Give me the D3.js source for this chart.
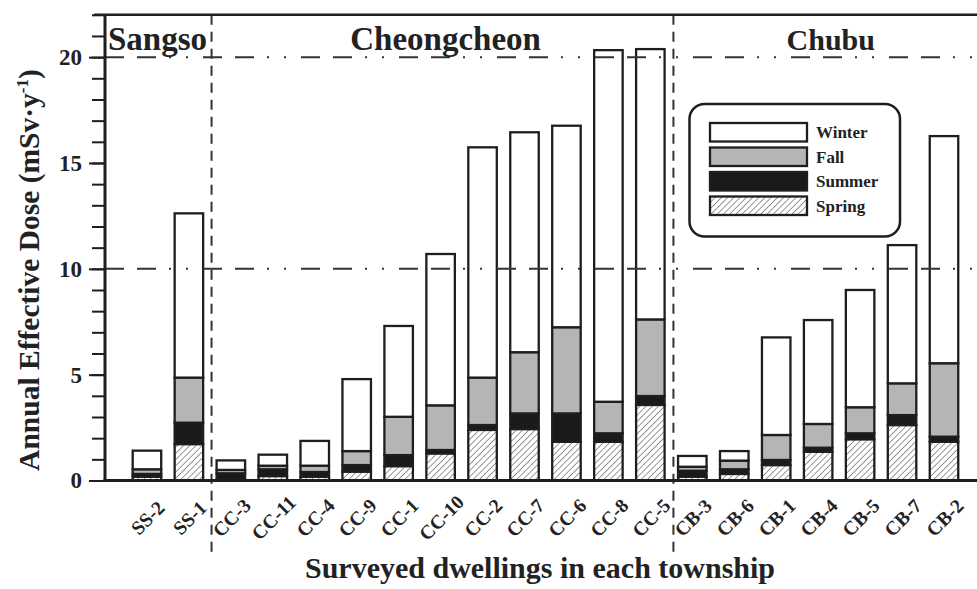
<!DOCTYPE html>
<html><head><meta charset="utf-8">
<script src="https://cdn.jsdelivr.net/npm/d3@7/dist/d3.min.js"></script>
<style>
html,body{margin:0;padding:0;background:#fff;}
svg{display:block;}
text{font-family:"Liberation Serif","DejaVu Serif",serif;font-weight:bold;fill:#222;}
</style></head>
<body>
<svg id="chart" width="977" height="589"></svg>
<script>
// ---------------- data ----------------
const categories = ["SS-2","SS-1","CC-3","CC-11","CC-4","CC-9","CC-1","CC-10","CC-2","CC-7","CC-6","CC-8","CC-5","CB-3","CB-6","CB-1","CB-4","CB-5","CB-7","CB-2"];
const spring = [0.18,1.72,0.04,0.21,0.18,0.42,0.68,1.28,2.39,2.43,1.83,1.83,3.57,0.18,0.31,0.73,1.36,1.95,2.62,1.83];
const summer = [0.13,1.01,0.30,0.32,0.22,0.31,0.52,0.16,0.23,0.74,1.34,0.40,0.42,0.28,0.22,0.24,0.19,0.28,0.47,0.24];
const fall   = [0.22,2.13,0.16,0.17,0.30,0.66,1.81,2.11,2.24,2.89,4.07,1.49,3.62,0.19,0.41,1.18,1.12,1.23,1.50,3.47];
const winter = [0.88,7.76,0.45,0.52,1.17,3.40,4.29,7.15,10.88,10.39,9.52,16.61,12.77,0.51,0.45,4.61,4.91,5.54,6.53,10.73];
const seasons = ["Spring","Summer","Fall","Winter"];
const legendOrder = ["Winter","Fall","Summer","Spring"];
const groups = ["Sangso","Cheongcheon","Chubu"];
const groupDividers = [2.54, 13.55];      // positions between groups (x units)
const refLines = [10, 20];
const yMajorTicks = [0,5,10,15,20];
const yMinorTicks = d3.range(0,23,1);

// ---------------- layout ----------------
const svg = d3.select("#chart");
const left = 105, baseY = 480.5, topY = 14.8;
const x = d3.scaleLinear().domain([0,21]).range([left, left + 21*41.95]);
const y = d3.scaleLinear().domain([0,22]).range([baseY, topY]);
const barW = 28.5;
const ink = "#1e1e1e";

const table = categories.map((c,i)=>({cat:c, pos:i+1, Spring:spring[i], Summer:summer[i], Fall:fall[i], Winter:winter[i]}));
const stack = d3.stack().keys(seasons)(table);

const defs = svg.append("defs");
const pat = defs.append("pattern").attr("id","hatch").attr("patternUnits","userSpaceOnUse")
  .attr("width",4.4).attr("height",4.4).attr("patternTransform","rotate(45)");
pat.append("rect").attr("width",4.4).attr("height",4.4).attr("fill","#fff");
pat.append("line").attr("x1",0).attr("y1",0).attr("x2",0).attr("y2",4.4).attr("stroke","#444").attr("stroke-width",1.1);

const fills = {Spring:"url(#hatch)", Summer:"#1a1a1a", Fall:"#b5b5b5", Winter:"#ffffff"};

// bars
svg.append("g").selectAll("g").data(stack).join("g")
  .attr("fill", d=>fills[d.key])
  .selectAll("rect").data(d=>d).join("rect")
  .attr("x", d=>x(d.data.pos)-barW/2)
  .attr("width", barW)
  .attr("y", d=>y(d[1]))
  .attr("height", d=>Math.max(0,y(d[0])-y(d[1])))
  .attr("stroke", ink).attr("stroke-width",2.3);

// reference dash-dot lines (drawn over bars)
svg.append("g").selectAll("line").data(refLines).join("line")
  .attr("x1", left).attr("x2", 977)
  .attr("y1", d=>y(d)).attr("y2", d=>y(d))
  .attr("stroke","#333").attr("stroke-width",2)
  .attr("stroke-dasharray","19,13,19,13,2,15,2,15");

// group dividers
svg.append("g").selectAll("line").data(groupDividers).join("line")
  .attr("x1", d=>x(d)).attr("x2", d=>x(d))
  .attr("y1", topY).attr("y2", 553)
  .attr("stroke","#333").attr("stroke-width",2)
  .attr("stroke-dasharray","10,7");

// axes
const yMinor = svg.append("g").attr("transform",`translate(${left},0)`)
  .call(d3.axisLeft(y).tickValues(yMinorTicks).tickSize(13).tickFormat(""));
yMinor.select(".domain").remove();
yMinor.selectAll("line").attr("stroke",ink).attr("stroke-width",2);

const yMajor = svg.append("g").attr("transform",`translate(${left},0)`)
  .call(d3.axisLeft(y).tickValues(yMajorTicks).tickSize(16).tickPadding(7));
yMajor.select(".domain").remove();
yMajor.selectAll("line").attr("stroke",ink).attr("stroke-width",2);
yMajor.selectAll("text").style("font-size","23px").style("font-family",'"Liberation Serif",serif').style("font-weight","bold").attr("fill","#222");

// frame lines
svg.append("line").attr("x1",left).attr("x2",left).attr("y1",topY).attr("y2",baseY+1.5).attr("stroke",ink).attr("stroke-width",3);
svg.append("line").attr("x1",left-11).attr("x2",977).attr("y1",topY).attr("y2",topY).attr("stroke",ink).attr("stroke-width",2.5);
svg.append("line").attr("x1",left-1.5).attr("x2",977).attr("y1",baseY).attr("y2",baseY).attr("stroke",ink).attr("stroke-width",3);

// x tick labels
svg.append("g").selectAll("text").data(table).join("text")
  .attr("transform", d=>`translate(${x(d.pos)+5.5},${baseY+42}) rotate(-45)`)
  .attr("text-anchor","middle")
  .style("font-size","19.5px")
  .text(d=>d.cat);

// group labels
const groupPos = [{anchor:"start", px:x(0)+3, fs:33}, {anchor:"middle", px:x(8.12), fs:33}, {anchor:"middle", px:x(17.3), fs:30}];
svg.append("g").selectAll("text").data(groups).join("text")
  .attr("x",(d,i)=>groupPos[i].px).attr("y",50)
  .attr("text-anchor",(d,i)=>groupPos[i].anchor)
  .style("font-size",(d,i)=>groupPos[i].fs+"px")
  .text(d=>d);

// axis titles
svg.append("text").attr("x",540).attr("y",578).attr("text-anchor","middle")
  .style("font-size","30px").text("Surveyed dwellings in each township");
const yl = svg.append("text").attr("transform","translate(39,270) rotate(-90)")
  .attr("text-anchor","middle").style("font-size","29.5px");
yl.append("tspan").text("Annual Effective Dose (mSv·y");
yl.append("tspan").attr("dy",-11).style("font-size","17px").text("-1");
yl.append("tspan").attr("dy",11).text(")");

// legend
const lg = svg.append("g");
lg.append("rect").attr("x",689.5).attr("y",104).attr("width",210.5).attr("height",132.5)
  .attr("rx",15).attr("fill","#fff").attr("stroke",ink).attr("stroke-width",2.5);
const li = lg.selectAll("g.item").data(legendOrder).join("g").attr("class","item")
  .attr("transform",(d,i)=>`translate(0,${123 + i*24.5})`);
li.append("rect").attr("x",710).attr("y",0).attr("width",97).attr("height",18.5)
  .attr("fill",d=>fills[d]).attr("stroke",ink).attr("stroke-width",2.3);
li.append("text").attr("x",816).attr("y",15).style("font-size","17px").text(d=>d);
</script>
</body></html>
